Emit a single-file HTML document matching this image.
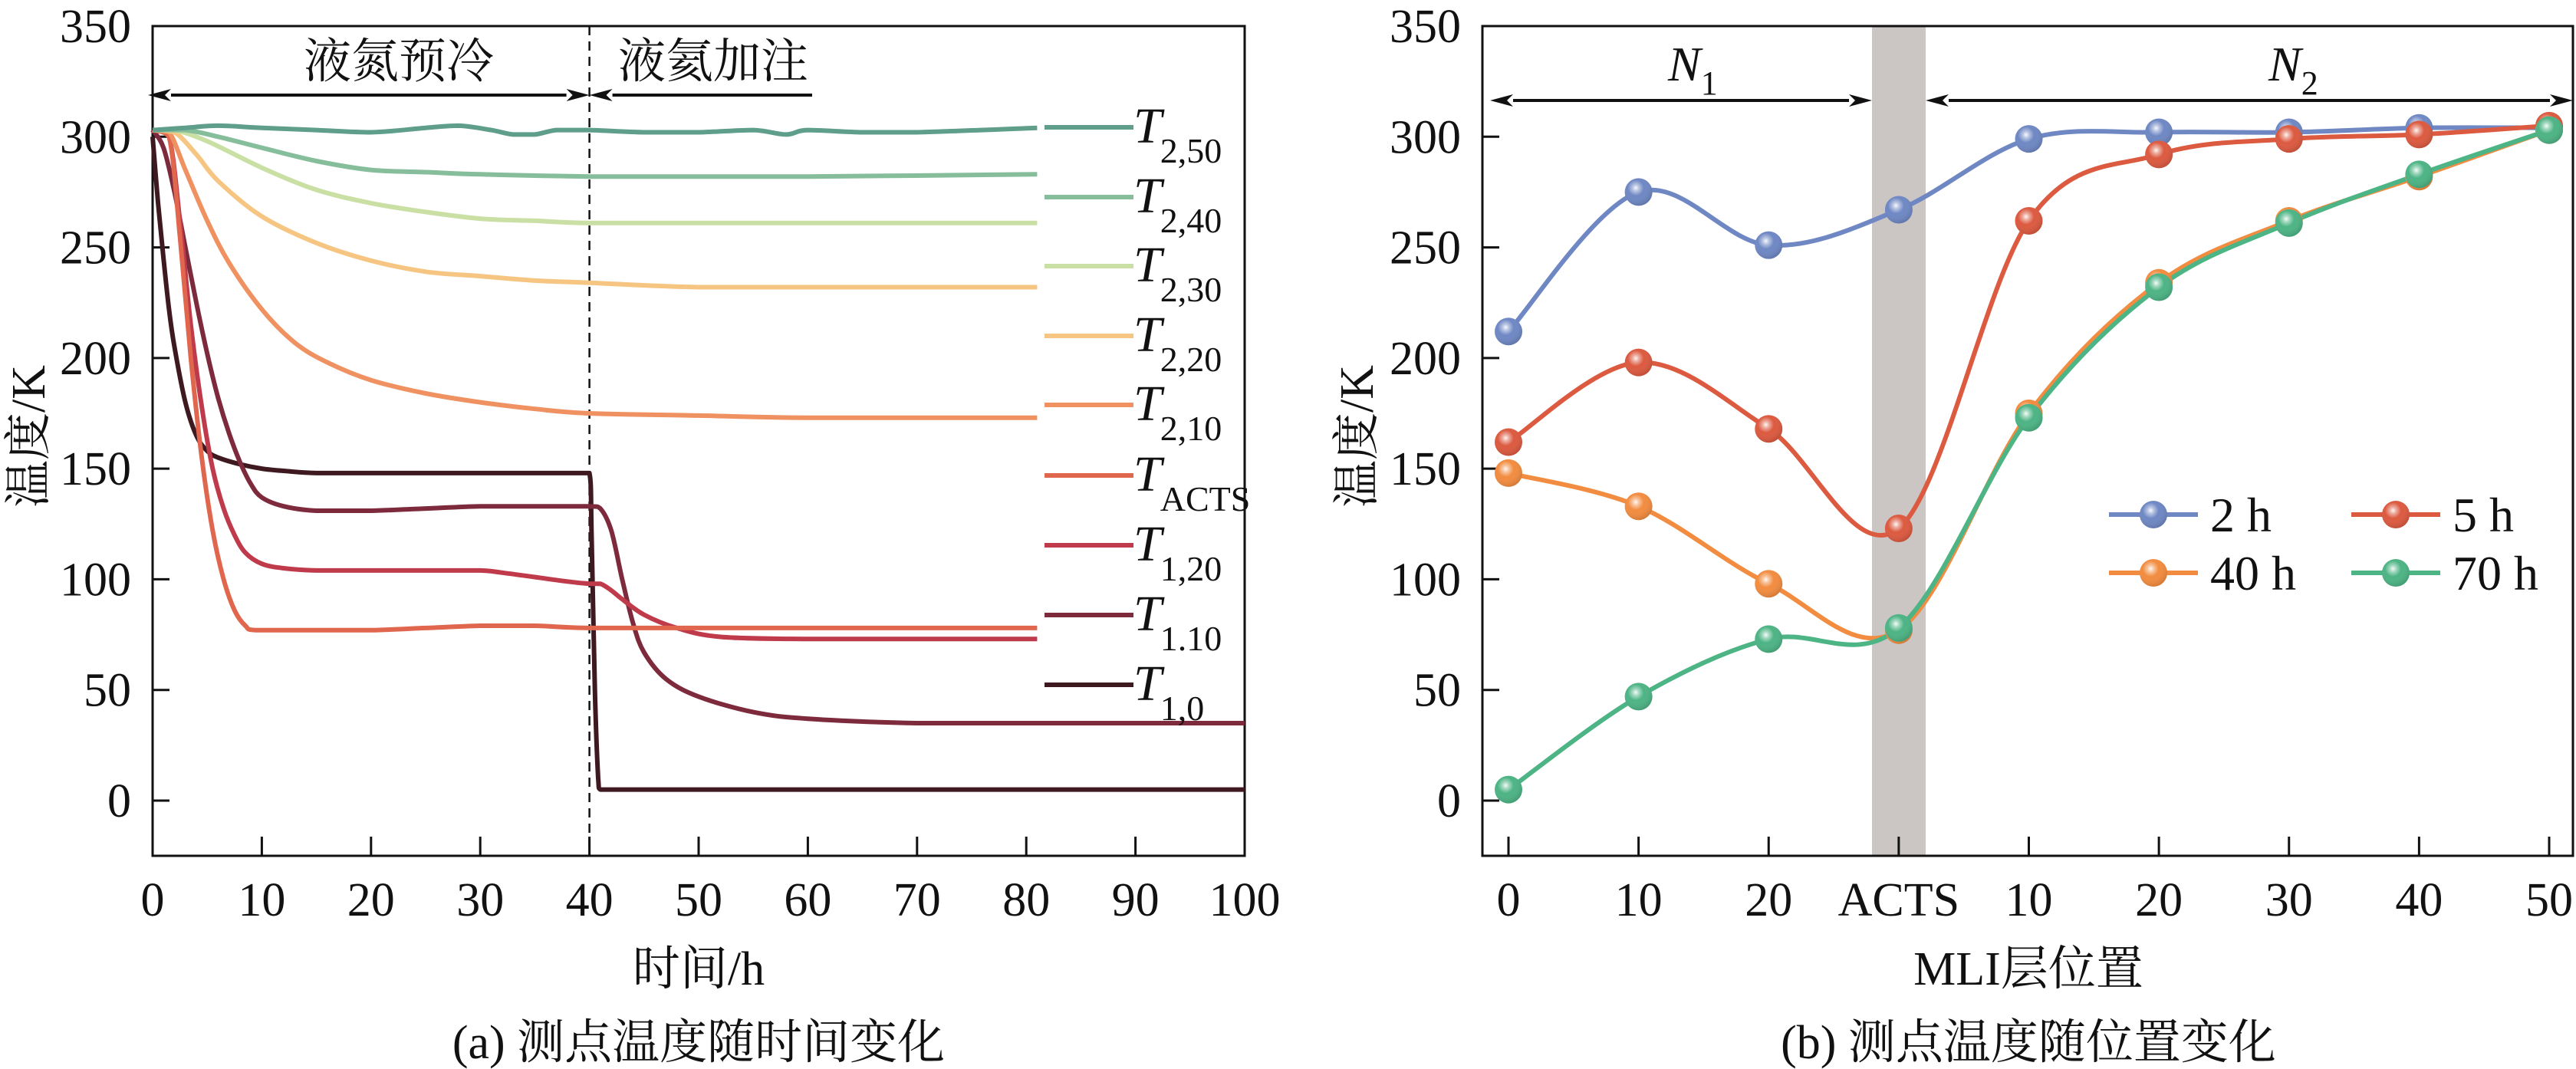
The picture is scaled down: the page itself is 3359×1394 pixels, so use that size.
<!DOCTYPE html>
<html><head><meta charset="utf-8">
<style>
html,body{margin:0;padding:0;background:#fff;}
svg{display:block;}
text{font-family:"Liberation Serif","Noto Serif CJK SC","Noto Sans CJK SC",serif;fill:#111;}
</style></head>
<body>
<svg id="fig" width="3359" height="1394" viewBox="0 0 3359 1394" xmlns="http://www.w3.org/2000/svg">
<defs>
<radialGradient id="ball" cx="0.4" cy="0.35" r="0.65">
<stop offset="0" stop-color="#fff" stop-opacity="0.95"/>
<stop offset="0.18" stop-color="#fff" stop-opacity="0.5"/>
<stop offset="0.45" stop-color="#fff" stop-opacity="0"/>
<stop offset="1" stop-color="#000" stop-opacity="0.12"/>
</radialGradient>
<marker id="ah" viewBox="0 0 30 16" refX="0" refY="8" markerWidth="30" markerHeight="16" markerUnits="userSpaceOnUse" orient="auto-start-reverse">
<path d="M30,8 L0,0 L8,8 L0,16 Z" fill="#111"/>
</marker>
</defs>
<g id="left"></g>
<g id="right"></g>
</svg>
<script>
// ---------- Left chart data ----------
const leftSeriesNames = ["T2,50","T2,40","T2,30","T2,20","T2,10","TACTS","T1,20","T1,10","T1,0"];
const t250x = [0,3,6,10,15,20,25,28,31,33,35,37,40,45,50,55,58,60,65,70,81];
const t250y = [303,304,305,304,303,302,304,305,303,301,301,303,303,302,302,303,301,303,302,302,304];
const t240x = [0,3,6,10,15,20,25,30,40,50,60,81];
const t240y = [303,303,300,295,289,285,284,283,282,282,282,283];
const t230x = [0,2,5,10,15,20,25,30,35,40,50,60,81];
const t230y = [303,303,298,286,276,270,266,263,262,261,261,261,261];
const t220x = [0,2,4,6,10,15,20,25,30,35,40,50,60,81];
const t220y = [303,302,292,280,264,252,244,239,237,235,234,232,232,232];
const t210x = [0,1.5,3,5,7,10,13,16,20,25,30,35,40,50,60,81];
const t210y = [303,302,285,262,243,222,207,198,190,184,180,177,175,174,173,173];
const tactsx = [0,1.5,2.5,3.5,4.5,5.5,6.5,7.5,8.5,9.5,15,20,25,30,35,40,50,60,81];
const tactsy = [303,300,255,200,155,122,100,86,79,77,77,77,78,79,79,78,78,78,78];
const t120x = [0,1.5,2.5,3.5,4.5,5.5,6.5,7.5,8.5,10,12,15,20,25,30,32,35,38,40,41,42,43,45,48,52,60,70,81];
const t120y = [303,300,262,215,178,150,132,120,112,107,105,104,104,104,104,103,101,99,98,98,95,91,84,78,74,73,73,73];
const t110x = [0,1,2,3,4,5,6,7,8,9,10,12,15,20,25,30,35,40,41,42,43,44,45,47,50,55,60,70,81,100];
const t110y = [303,295,275,250,225,202,182,166,153,143,137,133,131,131,132,133,133,133,132,122,100,80,67,55,47,40,37,35,35,35];
const t10x = [0,0.5,1,1.5,2,3,4,5,6,8,10,12,15,20,30,40,40.2,40.5,40.8,41,50,70,100];
const t10y = [300,270,245,222,205,180,165,158,155,152,150,149,148,148,148,148,120,50,10,5,5,5,5];
const leftYTicks = [0,50,100,150,200,250,300,350];
const leftXTicks = [0,10,20,30,40,50,60,70,80,90,100];

// ---------- Right chart data ----------
const posLabels = ["0","10","20","ACTS","10","20","30","40","50"];
const s2h  = [212,275,251,267,299,302,302,304,304];
const s5h  = [162,198,168,123,262,292,299,301,305];
const s40h = [148,133,98,77,175,234,262,282,303];
const s70h = [5,47,73,78,173,232,261,283,303];
const rightYTicks = [0,50,100,150,200,250,300,350];

const NS="http://www.w3.org/2000/svg";
function el(tag, attrs, parent){const e=document.createElementNS(NS,tag);for(const k in attrs)e.setAttribute(k,attrs[k]);if(parent)parent.appendChild(e);return e;}

function spline(pts, clamp){
 let d='M'+pts[0][0].toFixed(1)+','+pts[0][1].toFixed(1);
 for(let i=0;i<pts.length-1;i++){
  const p0=pts[i-1]||pts[i],p1=pts[i],p2=pts[i+1],p3=pts[i+2]||p2;
  let c1=[p1[0]+(p2[0]-p0[0])/6,p1[1]+(p2[1]-p0[1])/6];
  let c2=[p2[0]-(p3[0]-p1[0])/6,p2[1]-(p3[1]-p1[1])/6];
  if(clamp){
   const lo=Math.min(p1[1],p2[1]),hi=Math.max(p1[1],p2[1]);
   c1[1]=Math.min(hi,Math.max(lo,c1[1]));c2[1]=Math.min(hi,Math.max(lo,c2[1]));
   const xl=p1[0],xh=p2[0];
   c1[0]=Math.min(xh,Math.max(xl,c1[0]));c2[0]=Math.min(xh,Math.max(xl,c2[0]));
  }
  d+=' C'+c1[0].toFixed(1)+','+c1[1].toFixed(1)+' '+c2[0].toFixed(1)+','+c2[1].toFixed(1)+' '+p2[0].toFixed(1)+','+p2[1].toFixed(1);
 }
 return d;
}

// ===== LEFT =====
const L=document.getElementById('left');
const Lx0=199,Lx1=1623,Ltop=34,Lbot=1116;
const ly=v=>1044-(v)*(1044-34)/350;
const lx=v=>Lx0+(v/100)*(Lx1-Lx0);

let fr=el('rect',{x:Lx0,y:Ltop,width:Lx1-Lx0,height:Lbot-Ltop,fill:'none',stroke:'#111','stroke-width':3},L);


leftYTicks.forEach(v=>{
 const tk=el('line',{x1:Lx0,x2:Lx0+22,y1:ly(v),y2:ly(v),stroke:'#111','stroke-width':3},L);
 
 
 const t=el('text',{x:Lx0-28,y:ly(v)+21,'font-size':62,'text-anchor':'end'},L);t.textContent=v;
 
 
});
leftXTicks.forEach(v=>{
 const tk=el('line',{x1:lx(v),x2:lx(v),y1:Lbot,y2:Lbot-25,stroke:'#111','stroke-width':3},L);
 
 
 const t=el('text',{x:lx(v),y:1194,'font-size':62,'text-anchor':'middle'},L);t.textContent=v;
 
 
});
let dl=el('line',{x1:lx(40),x2:lx(40),y1:Ltop,y2:Lbot,stroke:'#111','stroke-width':2.5,'stroke-dasharray':'12,8'},L);


let a1=el('line',{x1:193+30,x2:lx(40)-30,y1:124,y2:124,stroke:'#111','stroke-width':4,'marker-start':'url(#ah)','marker-end':'url(#ah)'},L);


let a2=el('line',{x1:lx(40)+30,x2:1059,y1:124,y2:124,stroke:'#111','stroke-width':4,'marker-start':'url(#ah)'},L);


let p1=el('text',{x:520,y:101,'font-size':62,'text-anchor':'middle'},L);p1.textContent='液氮预冷';


let p2=el('text',{x:930,y:101,'font-size':62,'text-anchor':'middle'},L);p2.textContent='液氦加注';



const leftColors=['#5f9e8a','#86bd9a','#c9dfa3','#f6c581','#ef9160','#e0674e','#bf3a4a','#7d2a3c','#3e1a20'];
const leftXs=[t250x,t240x,t230x,t220x,t210x,tactsx,t120x,t110x,t10x];
const leftYs=[t250y,t240y,t230y,t220y,t210y,tactsy,t120y,t110y,t10y];
const subs=['2,50','2,40','2,30','2,20','2,10','ACTS','1,20','1.10','1,0'];
const legY=[166,257,347,438,528,620,711,802,893];
for(let i=leftXs.length-1;i>=0;i--){
 const pts=leftXs[i].map((x,j)=>[lx(x),ly(leftYs[i][j])]);
 const p=el('path',{d:spline(pts,true),fill:'none',stroke:leftColors[i],'stroke-width':6,'stroke-linejoin':'round'},L);
 
 
}
for(let i=0;i<9;i++){
 const ln=el('line',{x1:1362,x2:1478,y1:legY[i],y2:legY[i],stroke:leftColors[i],'stroke-width':6},L);
 
 
 const t=el('text',{x:1478,y:legY[i]+20,'font-size':66,'font-style':'italic'},L);
 
 
 t.textContent='T';
 const s=el('tspan',{dy:26,'font-size':46,'font-style':'normal',dx:-2},t);s.textContent=subs[i];
}
let yt=el('text',{transform:'translate(58,569) rotate(-90)','font-size':62,'text-anchor':'middle'},L);yt.textContent='温度/K';


let xt=el('text',{x:911,y:1284,'font-size':62,'text-anchor':'middle'},L);xt.textContent='时间/h';


let cap=el('text',{x:911,y:1380,'font-size':62,'text-anchor':'middle'},L);cap.textContent='(a) 测点温度随时间变化';



// ===== RIGHT =====
const R=document.getElementById('right');
const Rx0=1933,Rx1=3355;
const rx=i=>1967+i*(3324-1967)/8;
const ry=ly;
let band=el('rect',{x:2441,y:Ltop,width:70,height:Lbot-Ltop,fill:'#cbc5c3'},R);


let fr2=el('rect',{x:Rx0,y:Ltop,width:Rx1-Rx0,height:Lbot-Ltop,fill:'none',stroke:'#111','stroke-width':3},R);


rightYTicks.forEach(v=>{
 const tk=el('line',{x1:Rx0,x2:Rx0+22,y1:ry(v),y2:ry(v),stroke:'#111','stroke-width':3},R);
 
 
 const t=el('text',{x:Rx0-28,y:ry(v)+21,'font-size':62,'text-anchor':'end'},R);t.textContent=v;
 
 
});
posLabels.forEach((lab,i)=>{
 const tk=el('line',{x1:rx(i),x2:rx(i),y1:Lbot,y2:Lbot-25,stroke:'#111','stroke-width':3},R);
 
 
 const t=el('text',{x:rx(i),y:1194,'font-size':62,'text-anchor':'middle'},R);t.textContent=lab;
 
 
});
let n1=el('line',{x1:1943+30,x2:2441-30,y1:131,y2:131,stroke:'#111','stroke-width':4,'marker-start':'url(#ah)','marker-end':'url(#ah)'},R);


let n2=el('line',{x1:2511+30,x2:3355-30,y1:131,y2:131,stroke:'#111','stroke-width':4,'marker-start':'url(#ah)','marker-end':'url(#ah)'},R);


[['N','1',2175,'n1-label'],['N','2',2958,'n2-label']].forEach(a=>{
 const t=el('text',{x:a[2],y:105,'font-size':64,'font-style':'italic','text-anchor':'start'},R);
 
 
 t.textContent=a[0];
 const s=el('tspan',{dy:18,'font-size':44,'font-style':'normal'},t);s.textContent=a[1];
});
const rSeries=[s2h,s5h,s40h,s70h];
const rNames=['2h','5h','40h','70h'];
const rColors=['#6f88c4','#dc5a40','#f28c40','#4db485'];
rSeries.forEach((s,k)=>{
 const pts=s.map((v,i)=>[rx(i),ry(v)]);
 const p=el('path',{d:spline(pts,false),fill:'none',stroke:rColors[k],'stroke-width':6},R);
 
 
});
rSeries.forEach((s,k)=>{
 s.forEach((v,i)=>{
  const c=el('circle',{cx:rx(i),cy:ry(v),r:18,fill:rColors[k]},R);
  
  
  const h=el('circle',{cx:rx(i),cy:ry(v),r:18,fill:'url(#ball)'},R);
  
  
 });
});
const legPos=[[2750,671,'2 h'],[3066,671,'5 h'],[2750,747,'40 h'],[3066,747,'70 h']];
legPos.forEach((lp,k)=>{
 const g=el('g',{},R);
 
 
 el('line',{x1:lp[0],x2:lp[0]+116,y1:lp[1],y2:lp[1],stroke:rColors[k],'stroke-width':6},g);
 el('circle',{cx:lp[0]+58,cy:lp[1],r:18,fill:rColors[k]},g);
 el('circle',{cx:lp[0]+58,cy:lp[1],r:18,fill:'url(#ball)'},g);
 const t=el('text',{x:lp[0]+132,y:lp[1]+22,'font-size':64},g);t.textContent=lp[2];
});
let yt2=el('text',{transform:'translate(1790,569) rotate(-90)','font-size':62,'text-anchor':'middle'},R);yt2.textContent='温度/K';


let xt2=el('text',{x:2645,y:1284,'font-size':62,'text-anchor':'middle'},R);xt2.textContent='MLI层位置';


let cap2=el('text',{x:2645,y:1380,'font-size':62,'text-anchor':'middle'},R);cap2.textContent='(b) 测点温度随位置变化';


</script>
</body></html>
